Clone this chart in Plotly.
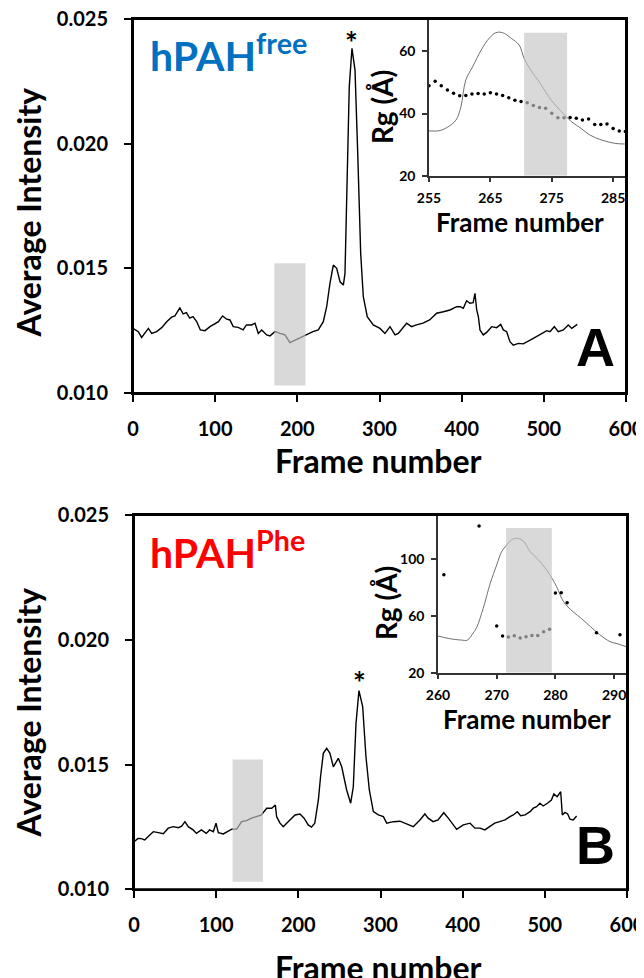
import plotly.graph_objects as go

# ---------------- Panel A (hPAH free) main trace ----------------
frames_a = [0, 6.5, 10.5, 14.6, 18.7, 22.7, 28.8, 34.9, 41, 47, 51, 57, 61, 65, 69, 73, 77.5, 82,
            87.6, 93.7, 99.8, 104, 109, 114, 118, 122, 128, 134, 138, 144.5, 148.5, 152.5, 156.6,
            162.7, 166.7, 172.8, 179, 185, 191, 199, 209, 219, 225.5, 231.6, 235.7, 239.7, 243.8,
            247.9, 252, 256, 258, 260.8, 263.2, 266.5, 270.2, 273.5, 277.1, 280.3, 285.1, 292.4,
            300.6, 306.7, 312.8, 318.9, 322.9, 333, 339, 345, 353, 361, 369.6, 377.7, 385.8, 393.9,
            398, 402, 406, 410, 414, 416.2, 418.3, 420.3, 422.3, 426.3, 430.4, 436.5, 442.6, 447.5,
            450.7, 454.8, 458.8, 462.8, 469, 475, 481, 485, 491, 497, 503.5, 507.5, 512.7, 517.6,
            523.7, 529.8, 534, 540.7]
intensity_a = [0.01259, 0.01246, 0.01223, 0.01239, 0.01259, 0.01239, 0.01246, 0.01262, 0.01286,
               0.01304, 0.01309, 0.01341, 0.01317, 0.01322, 0.01300, 0.01306, 0.01286, 0.01253,
               0.01250, 0.01266, 0.01277, 0.01286, 0.01309, 0.01296, 0.01293, 0.01266, 0.01263,
               0.01253, 0.01273, 0.01273, 0.01280, 0.01239, 0.01253, 0.01233, 0.01229, 0.01246,
               0.01239, 0.01233, 0.01202, 0.01215, 0.01233, 0.01246, 0.01253, 0.01286, 0.01346,
               0.01440, 0.01513, 0.01500, 0.01446, 0.01433, 0.01480, 0.01827, 0.02228, 0.02382,
               0.02295, 0.01961, 0.01560, 0.01386, 0.01306, 0.01273, 0.01259, 0.01239, 0.01266,
               0.01233, 0.01239, 0.01280, 0.01266, 0.01273, 0.01280, 0.01293, 0.01320, 0.01326,
               0.01333, 0.01346, 0.01346, 0.01340, 0.01370, 0.01360, 0.01362, 0.01400, 0.01333,
               0.01306, 0.01253, 0.01233, 0.01243, 0.01266, 0.01262, 0.01275, 0.01253, 0.01246,
               0.01206, 0.01192, 0.01199, 0.01197, 0.01206, 0.01215, 0.01226, 0.01237, 0.01250,
               0.01246, 0.01266, 0.01246, 0.01253, 0.01273, 0.01259, 0.01275]

# Panel A inset (Rg)
inset_a_frames_line = [255, 256.8, 258, 259.4, 260.2, 261, 262.1, 263.5, 264.8, 265.9, 267, 268.4,
                       269.7, 270.5, 271.4, 273.3, 274.9, 276.6, 278.2, 279.8, 281.2, 283.1, 285.3, 286.9]
inset_a_rg_line = [34.4, 34.5, 35.6, 37.9, 42.2, 50.8, 55.0, 60.4, 64.2, 66.0, 66.0, 64.2,
                   62.0, 57.7, 54.5, 49.2, 44.3, 40.6, 37.4, 35.2, 33.1, 31.5, 30.4, 30.2]
inset_a_frames_dots = list(range(255, 288))
inset_a_rg_dots = [48.9, 50.4, 48.9, 47.6, 46.5, 45.7, 45.8, 46.3, 46.4, 46.3, 46.7, 46.3, 45.8,
                   45.1, 44.3, 43.9, 43.5, 42.6, 41.9, 41.7, 40.1, 38.6, 38.6, 38.7, 38.5, 37.9,
                   38.2, 36.5, 36.5, 36.6, 35.2, 34.4, 34.2]

# ---------------- Panel B (hPAH Phe) main trace ----------------
frames_b = [0, 5, 9, 13, 17, 23.5, 29.6, 35.7, 41.7, 47.8, 54, 58, 62, 66, 72, 76, 82, 88, 92, 96.5,
            99.8, 102.6, 108.7, 114.8, 119, 125, 131, 137, 143, 149, 155, 161.5, 167.6, 172, 173.6,
            177.7, 181.7, 185.8, 190, 196, 202, 207, 212, 216, 220, 224.4, 227, 230.4, 234.5, 238.5,
            242.6, 248.7, 252.8, 258.8, 263.7, 266.9, 270.2, 273.8, 278.3, 282.3, 286.4, 291.3,
            297.4, 303.5, 307.6, 315.7, 323.7, 331.8, 339.9, 348, 354, 358, 364, 370, 377, 382.5,
            388.6, 392.7, 400.8, 409, 415, 421, 427, 433, 439, 445, 451.5, 457.6, 461.6, 466.5,
            470.6, 476, 482, 486, 490, 494, 498, 504, 508, 511, 515, 519.3, 521.3, 524.5, 527.8,
            530.6, 534.6, 538.7]
intensity_b = [0.01191, 0.01204, 0.01203, 0.01198, 0.01211, 0.01231, 0.01227, 0.01223, 0.01245,
               0.01251, 0.01247, 0.01253, 0.01271, 0.01251, 0.01238, 0.01224, 0.01238, 0.01224,
               0.01238, 0.01231, 0.01265, 0.01227, 0.01222, 0.01235, 0.01241, 0.01241, 0.01271,
               0.01275, 0.01285, 0.01291, 0.01298, 0.01325, 0.01325, 0.01338, 0.01291, 0.01265,
               0.01251, 0.01265, 0.01278, 0.01298, 0.01302, 0.01285, 0.01258, 0.01249, 0.01265,
               0.01358, 0.01450, 0.01545, 0.01565, 0.01545, 0.01491, 0.01525, 0.01491, 0.01398,
               0.01345, 0.01411, 0.01665, 0.01796, 0.01732, 0.01531, 0.01398, 0.01311, 0.01298,
               0.01291, 0.01265, 0.01271, 0.01273, 0.01261, 0.01251, 0.01278, 0.01302, 0.01285,
               0.01271, 0.01278, 0.01307, 0.01285, 0.01258, 0.01240, 0.01258, 0.01265, 0.01245,
               0.01245, 0.01238, 0.01251, 0.01265, 0.01271, 0.01278, 0.01291, 0.01298, 0.01311,
               0.01295, 0.01298, 0.01311, 0.01325, 0.01331, 0.01345, 0.01334, 0.01347, 0.01358,
               0.01382, 0.01371, 0.01391, 0.01298, 0.01308, 0.01302, 0.01281, 0.01278, 0.01294]

# Panel B inset (Rg)
inset_b_frames_line = [260, 262, 264, 265, 266, 266.6, 267.7, 268.9, 270, 270.8, 271.5, 272.5, 273.4,
                       274.5, 275.7, 277, 278.5, 279.5, 280.2, 281.4, 283, 284.5, 286, 287.5, 289.3,
                       290.5, 292.1]
inset_b_rg_line = [45.9, 44.0, 43.0, 43.0, 48.0, 52.0, 65.4, 83.0, 96.0, 105.0, 109.0, 113.5, 114.8,
                   113.0, 105.4, 100.0, 92.5, 86.0, 80.7, 70.0, 63.0, 58.0, 52.4, 47.0, 41.9, 40.5, 38.3]
inset_b_frames_dots = [261, 267, 270, 271, 272, 273, 274, 275, 276, 277, 278, 279, 280, 281, 282, 287, 291]
inset_b_rg_dots = [89.0, 123.5, 53.0, 45.9, 45.2, 46.1, 44.5, 45.4, 46.3, 46.3, 48.9, 50.6,
                   76.2, 76.4, 69.4, 48.2, 46.8]

# Highlighted frame windows
window_a = [172, 210]
window_b = [120, 157]
window_inset_a = [270.5, 277.5]
window_inset_b = [271.6, 279.4]

# page has an 8px body margin: figure sized to fill the rest of the window
OFF = 8
W, H = 644 - OFF, 978 - OFF
FONT = "Lato"


def px(x):
    return (x - OFF) / W


def py(y):
    return 1 - (y - OFF) / H


fig = go.Figure()
fig.add_trace(go.Scatter(x=frames_a, y=intensity_a, mode="lines", line=dict(color="black", width=1.4),
                         xaxis="x", yaxis="y", showlegend=False))
fig.add_trace(go.Scatter(x=inset_a_frames_line, y=inset_a_rg_line, mode="lines",
                         line=dict(color="#707070", width=1, shape="spline"),
                         xaxis="x2", yaxis="y2", showlegend=False))
fig.add_trace(go.Scatter(x=inset_a_frames_dots, y=inset_a_rg_dots, mode="markers",
                         marker=dict(color="black", size=3.5),
                         xaxis="x2", yaxis="y2", showlegend=False))
fig.add_trace(go.Scatter(x=frames_b, y=intensity_b, mode="lines", line=dict(color="black", width=1.4),
                         xaxis="x3", yaxis="y3", showlegend=False))
fig.add_trace(go.Scatter(x=inset_b_frames_line, y=inset_b_rg_line, mode="lines",
                         line=dict(color="#707070", width=1, shape="spline"),
                         xaxis="x4", yaxis="y4", showlegend=False))
fig.add_trace(go.Scatter(x=inset_b_frames_dots, y=inset_b_rg_dots, mode="markers",
                         marker=dict(color="black", size=3.5),
                         xaxis="x4", yaxis="y4", showlegend=False))

main_tick = dict(family=FONT, size=20, color="black", weight="bold")
inset_tick = dict(family=FONT, size=14, color="black", weight="bold")


def main_x(domain, anchor):
    return dict(domain=domain, anchor=anchor, range=[0, 600], dtick=100, tick0=0, automargin=False,
                showline=True, linecolor="black", linewidth=2, mirror=True,
                ticks="outside", ticklen=7, tickwidth=2, tickcolor="black", ticklabeloverflow="allow",
                tickfont=main_tick, showgrid=False, zeroline=False, ticklabelstandoff=10)


def main_y(domain, anchor):
    return dict(domain=domain, anchor=anchor, range=[0.010, 0.025], dtick=0.005, tick0=0.010,
                automargin=False, ticklabeloverflow="allow",
                tickformat=".3f", showline=True, linecolor="black", linewidth=2, mirror=True,
                ticks="outside", ticklen=7, tickwidth=2, tickcolor="black",
                tickfont=main_tick, showgrid=False, zeroline=False, ticklabelstandoff=12)


def inset_x(domain, anchor, rng, t0):
    return dict(domain=domain, anchor=anchor, range=rng, dtick=10, tick0=t0, automargin=False,
                showline=True, linecolor="#333", linewidth=1.5, mirror=False, ticklabeloverflow="allow",
                ticks="outside", ticklen=5, tickwidth=1.5, tickcolor="#333",
                tickfont=inset_tick, showgrid=False, zeroline=False, ticklabelstandoff=4)


def inset_y(domain, anchor, rng, dt):
    return dict(domain=domain, anchor=anchor, range=rng, dtick=dt, tick0=20, automargin=False,
                showline=True, linecolor="#333", linewidth=1.5, mirror=False, ticklabeloverflow="allow",
                ticks="outside", ticklen=5, tickwidth=1.5, tickcolor="#333",
                tickfont=inset_tick, showgrid=False, zeroline=False, ticklabelstandoff=4)


fig.update_layout(
    width=W, height=H, margin=dict(l=0, r=0, t=0, b=0, autoexpand=False),
    paper_bgcolor="white", plot_bgcolor="rgba(0,0,0,0)",
    font=dict(family=FONT, color="black"),
    xaxis=main_x([px(133), px(626)], "y"),
    yaxis=main_y([py(393), py(19)], "x"),
    xaxis2=inset_x([px(429), px(626)], "y2", [255, 287.1], 255),
    yaxis2=inset_y([py(175.7), py(19)], "x2", [20, 70.4], 20),
    xaxis3=main_x([px(134), px(627)], "y3"),
    yaxis3=main_y([py(889.3), py(515)], "x3"),
    xaxis4=inset_x([px(438), px(627)], "y4", [260, 292.2], 260),
    yaxis4=inset_y([py(672.7), py(515)], "x4", [20, 131.2], 40),
)

# shaded windows, drawn above traces so covered lines look grey
for xr, yr, (lo, hi) in [("x", "y", window_a), ("x3", "y3", window_b)]:
    fig.add_shape(type="rect", xref=xr, yref=yr, x0=lo, x1=hi, y0=0.0103, y1=0.0152,
                  fillcolor="#c4c4c4", opacity=0.65, line=dict(width=0), layer="above")
fig.add_shape(type="rect", xref="x2", yref="y2", x0=window_inset_a[0], x1=window_inset_a[1],
              y0=20, y1=66, fillcolor="#c4c4c4", opacity=0.65, line=dict(width=0), layer="above")
fig.add_shape(type="rect", xref="x4", yref="y4", x0=window_inset_b[0], x1=window_inset_b[1],
              y0=20, y1=122, fillcolor="#c4c4c4", opacity=0.65, line=dict(width=0), layer="above")

# frame around each main plot area
for xd, yd in [("x domain", "y domain"), ("x3 domain", "y3 domain")]:
    fig.add_shape(type="rect", xref=xd, yref=yd, x0=0, x1=1, y0=0, y1=1,
                  line=dict(color="black", width=2), fillcolor="rgba(0,0,0,0)", layer="above")

ann = []


def text(x, y, s, size, color="black", angle=0, xanchor="center", yanchor="middle", family=FONT):
    ann.append(dict(x=x, y=y, xref="paper", yref="paper", text=s, showarrow=False, textangle=angle,
                    xanchor=xanchor, yanchor=yanchor,
                    font=dict(family=family, size=size, color=color, weight="bold")))


# axis titles
text(px(28), py(212.5), "Average Intensity", 32, angle=-90)
text(px(28), py(712.5), "Average Intensity", 32, angle=-90)
text(px(378), py(460), "Frame number", 32)
text(px(378), py(967), "Frame number", 32)
text(px(520), py(222), "Frame number", 26)
text(px(527), py(719), "Frame number", 26)
text(px(382), py(107), "Rg (Å)", 28, angle=-90)
text(px(386), py(603), "Rg (Å)", 28, angle=-90)
# sample labels
text(px(148), py(53), "hPAH<sup>free</sup>", 41, color="#0070C0", xanchor="left")
text(px(148), py(550), "hPAH<sup>Phe</sup>", 41, color="#FF0000", xanchor="left")
# panel letters
text(px(595), py(347), "A", 54, family="Liberation Sans")
text(px(595), py(845), "B", 54, family="Liberation Sans")
# peak asterisks
text(px(133 + 266.5 * 0.8217), py(42), "*", 30)
text(px(134 + 274 * 0.8217), py(682), "*", 30)

fig.update_layout(annotations=ann)
fig.write_html("out.html")
